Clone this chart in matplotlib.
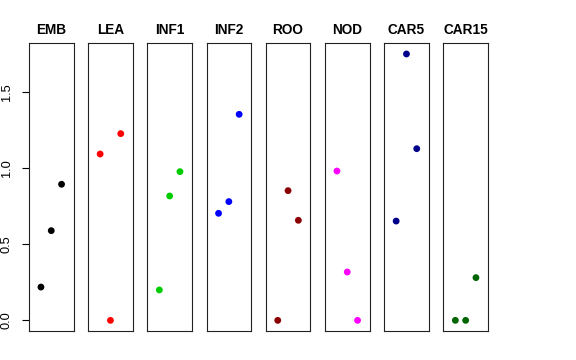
import matplotlib
matplotlib.use("Agg")
import matplotlib.pyplot as plt

# -------------------------------------------------------
# Datos (3 puntos por panel, x = 1, 2, 3)
# -------------------------------------------------------
paneles = ["EMB", "LEA", "INF1", "INF2", "ROO", "NOD", "CAR5", "CAR15"]
colores = ["black", "#FF0000", "#00CD00", "#0000FF", "#8B0000", "#FF00FF", "#00008B", "#006400"]
posiciones = [1, 2, 3]

emb   = [0.219, 0.590, 0.895]
lea   = [1.094, 0.000, 1.228]
inf1  = [0.200, 0.818, 0.978]
inf2  = [0.704, 0.781, 1.355]
roo   = [0.000, 0.853, 0.658]
nod   = [0.982, 0.318, 0.000]
car5  = [0.653, 1.752, 1.129]
car15 = [0.000, 0.000, 0.281]

valores = [emb, lea, inf1, inf2, roo, nod, car5, car15]
marcas_y = [0.0, 0.5, 1.0, 1.5]

# -------------------------------------------------------
# Figura (pixeles -> fracciones)
# -------------------------------------------------------
ANCHO, ALTO = 576, 360
fig = plt.figure(figsize=(ANCHO / 100, ALTO / 100), dpi=100)
plt.rcParams["font.family"] = ["Liberation Sans", "DejaVu Sans"]

y_min = -0.0700
y_max = 1.752 * 1.04

for i in range(len(paneles)):
    izq = 29 + 59.2 * i
    ax = fig.add_axes([izq / ANCHO, (ALTO - 331) / ALTO, 44.5 / ANCHO, (331 - 43.3) / ALTO])
    ax.scatter(posiciones, valores[i], s=24, color=colores[i], edgecolors="none", zorder=3)
    ax.set_xlim(-0.16, 4.16)
    ax.set_ylim(y_min, y_max)
    ax.set_xticks([])
    ax.set_title(paneles[i], fontsize=9.8, fontweight="bold", pad=6.5)
    for lado in ax.spines.values():
        lado.set_linewidth(0.8)
        lado.set_color("#222222")
    if i == 0:
        ax.set_yticks(marcas_y)
        ax.set_yticklabels([f"{v:.1f}" for v in marcas_y], rotation=90, va="center", fontsize=9.2)
        ax.tick_params(axis="y", length=5.3, width=0.8, pad=6.5)
    else:
        ax.set_yticks([])

fig.savefig("out.png", dpi=100)
